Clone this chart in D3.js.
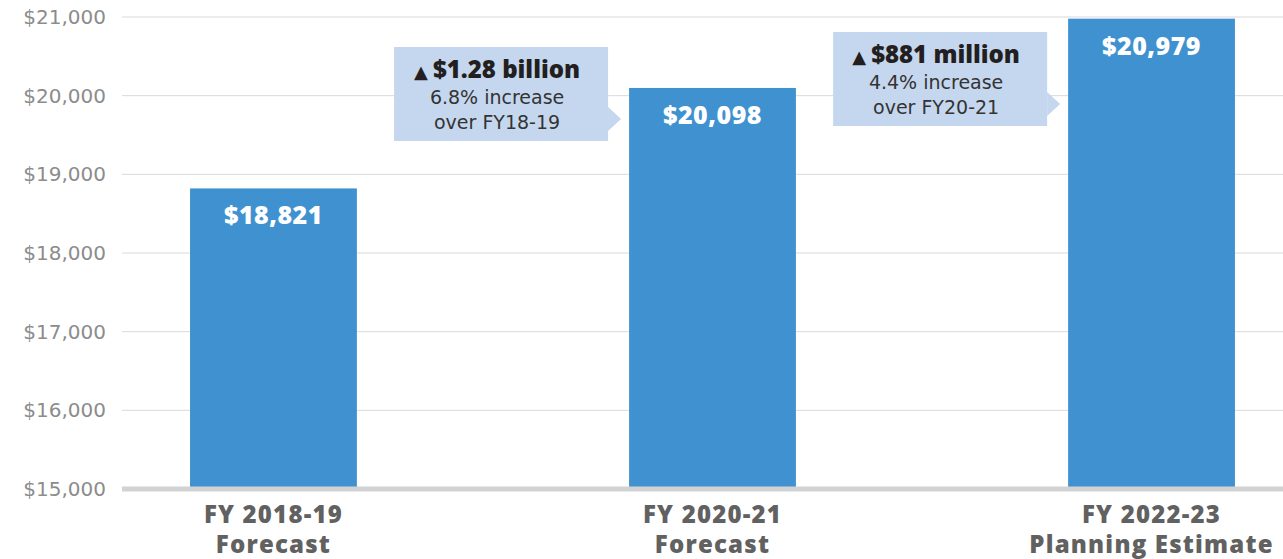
<!DOCTYPE html>
<html>
<head>
  <script src="https://cdnjs.cloudflare.com/ajax/libs/d3/7.8.5/d3.min.js"></script>
  <style>
    body { margin: 0; background: #fff; }
  </style>
</head>
<body>
  <div id="chart"></div>
  <script>
    // chart values
    var categories = ['FY 2018-19', 'FY 2020-21', 'FY 2022-23'];
    var subLabels = ['Forecast', 'Forecast', 'Planning Estimate'];
    var values = [18821, 20098, 20979];
    var yTicks = [15000, 16000, 17000, 18000, 19000, 20000, 21000];
    var changeAmounts = ['$1.28 billion', '$881 million'];
    var changePcts = ['6.8% increase', '4.4% increase'];
    var changeBase = ['over FY18-19', 'over FY20-21'];

    var width = 1283, height = 559;
    var left = 122;

    var svg = d3.select('#chart').append('svg')
      .attr('width', width)
      .attr('height', height);

    var y = d3.scaleLinear().domain([15000, 21000]).range([489, 17]);
    var x = d3.scaleBand().domain(categories)
      .range([left, 1303])
      .paddingInner(0.62)
      .paddingOuter(0.155);

    var money = d3.format(',');

    // grid lines
    svg.append('g').selectAll('line')
      .data(yTicks.slice(1))
      .enter().append('line')
      .attr('x1', left).attr('x2', width)
      .attr('y1', function(d){ return y(d); })
      .attr('y2', function(d){ return y(d); })
      .style('stroke', '#d9d9d9')
      .style('stroke-width', 1);

    // y tick labels
    svg.append('g').selectAll('text')
      .data(yTicks)
      .enter().append('text')
      .attr('x', 106)
      .attr('y', function(d){ return y(d); })
      .attr('dy', '0.35em')
      .attr('text-anchor', 'end')
      .style('font-family', 'DejaVu Sans')
      .style('font-size', '20px')
      .style('fill', '#8c8c8c')
      .text(function(d){ return '$' + money(d); });

    // bars
    svg.append('g').selectAll('rect')
      .data(values)
      .enter().append('rect')
      .attr('x', function(d, i){ return x(categories[i]); })
      .attr('y', function(d){ return y(d); })
      .attr('width', x.bandwidth())
      .attr('height', function(d){ return y(15000) - y(d); })
      .style('fill', '#3f92cf');

    // baseline
    svg.append('line')
      .attr('x1', left).attr('x2', width)
      .attr('y1', y(15000)).attr('y2', y(15000))
      .style('stroke', '#d1d2d4')
      .style('stroke-width', 5);

    // value labels inside bars
    svg.append('g').selectAll('text')
      .data(values)
      .enter().append('text')
      .attr('x', function(d, i){ return x(categories[i]) + x.bandwidth() / 2; })
      .attr('y', function(d){ return y(d) + 36; })
      .attr('text-anchor', 'middle')
      .style('font-family', 'Open Sans')
      .style('font-weight', 800)
      .style('font-size', '25px')
      .style('letter-spacing', '0.5px')
      .style('fill', '#fff')
      .text(function(d){ return '$' + money(d); });

    // category labels, two lines each
    var labelStyle = function(sel){
      sel.attr('text-anchor', 'middle')
        .style('font-family', 'Open Sans')
        .style('font-weight', 800)
        .style('font-size', '24px')
        .style('letter-spacing', '1.2px')
        .style('fill', '#616161');
    };
    svg.append('g').selectAll('text')
      .data(categories)
      .enter().append('text')
      .call(labelStyle)
      .attr('x', function(d){ return x(d) + x.bandwidth() / 2; })
      .attr('y', 523)
      .text(function(d){ return d; });
    svg.append('g').selectAll('text')
      .data(categories)
      .enter().append('text')
      .call(labelStyle)
      .attr('x', function(d){ return x(d) + x.bandwidth() / 2; })
      .attr('y', 553)
      .text(function(d, i){ return subLabels[i]; });

    // callouts pointing at the next bar
    var boxW = 214, boxH = 94;
    var boxTops = [47, 32];
    changeAmounts.forEach(function(amt, i){
      var target = x(categories[i + 1]);
      var bx = target - 21 - boxW, by = boxTops[i];
      var tipY = by + boxH - 22;
      var g = svg.append('g');
      g.append('rect')
        .attr('x', bx).attr('y', by)
        .attr('width', boxW).attr('height', boxH)
        .style('fill', '#c5d7ee');
      g.append('path')
        .attr('d', 'M' + (bx + boxW) + ',' + (tipY - 12) + 'L' + (target - 8) + ',' + tipY +
          'L' + (bx + boxW) + ',' + (tipY + 12) + 'Z')
        .style('fill', '#c5d7ee');
      var cx = bx + boxW / 2 - 4;
      var t = g.append('text')
        .attr('x', cx).attr('y', by + 31)
        .attr('text-anchor', 'middle')
        .style('font-family', 'Open Sans')
        .style('font-weight', 800)
        .style('font-size', '24px')
        .style('fill', '#231f20');
      t.append('tspan')
        .style('font-family', 'DejaVu Sans')
        .style('font-size', '18px')
        .text('\u25B2');
      t.append('tspan')
        .attr('dx', 5)
        .text(amt);
      g.append('text')
        .attr('x', cx).attr('y', by + 57)
        .attr('text-anchor', 'middle')
        .style('font-family', 'DejaVu Sans')
        .style('font-size', '19px')
        .style('fill', '#333')
        .text(changePcts[i]);
      g.append('text')
        .attr('x', cx).attr('y', by + 82)
        .attr('text-anchor', 'middle')
        .style('font-family', 'DejaVu Sans')
        .style('font-size', '19px')
        .style('fill', '#333')
        .text(changeBase[i]);
    });
  </script>
</body>
</html>
